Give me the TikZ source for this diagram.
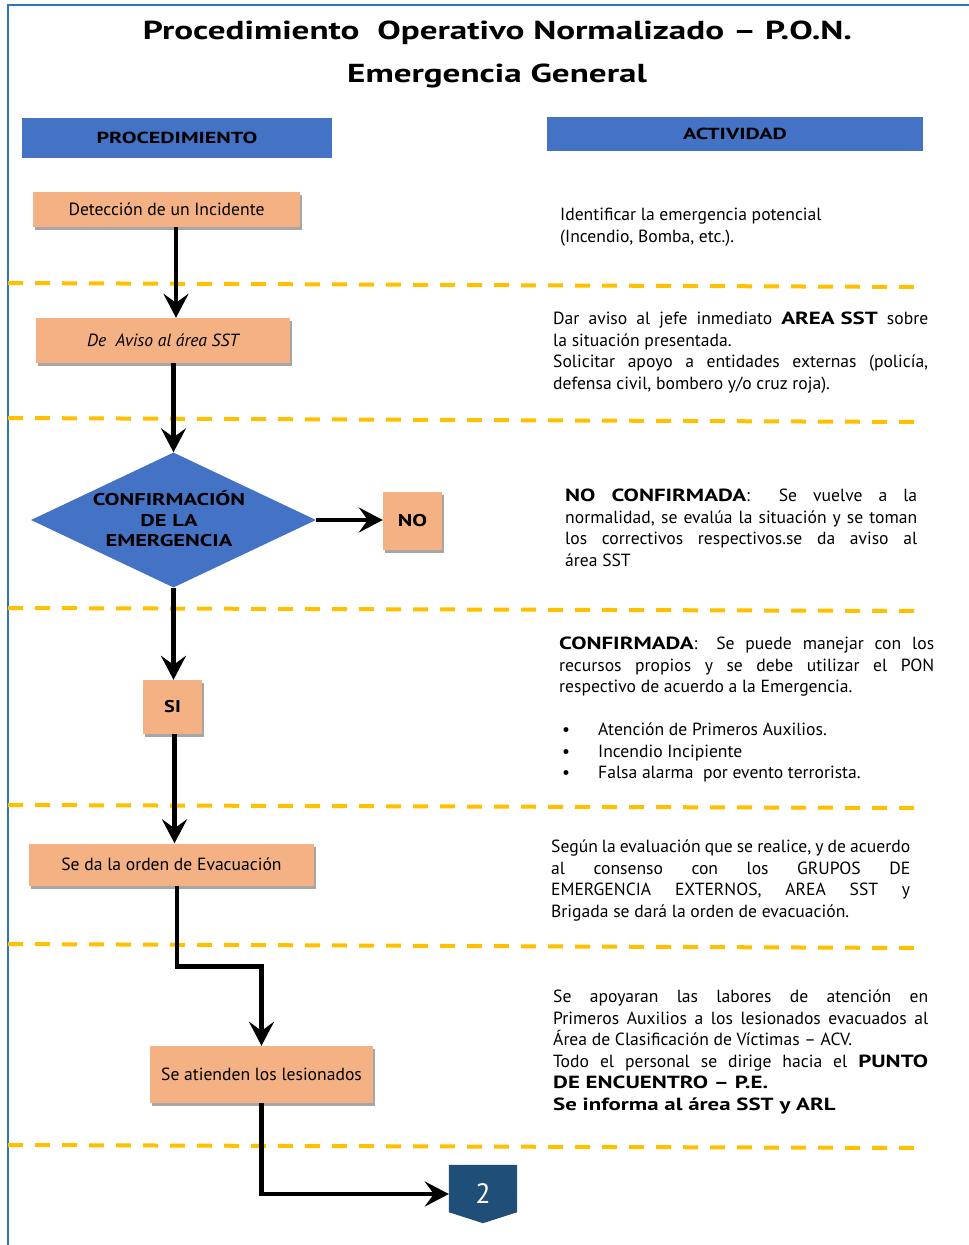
\documentclass[tikz,border=0pt]{standalone}
\usepackage{fontspec}
\usepackage{graphicx}
\setmainfont{PT Sans}
\usetikzlibrary{arrows.meta,shapes.geometric,shadows,backgrounds}
\definecolor{hdrblue}{HTML}{4472C4}
\definecolor{salmon}{HTML}{F4B183}
\definecolor{gold}{HTML}{FFC000}
\definecolor{navy}{HTML}{1F4E79}
\definecolor{borderblue}{HTML}{2E75B6}
\newcommand\wb[1]{\scalebox{1.3}[1]{\bfseries #1}}
\newcommand\wide[2]{\scalebox{#1}[1]{#2}}
\begin{document}
\begin{tikzpicture}[x=1pt,y=-1pt,
  body/.style={font=\fontsize{17.6}{21.5}\selectfont, inner sep=0pt, align=left, anchor=north west},
  pbox/.style={draw=none, fill=salmon, inner sep=0pt, font=\fontsize{17.6}{20}\selectfont,
    drop shadow={shadow xshift=2pt, shadow yshift=-3pt, fill=black, opacity=0.35}},
  hdr/.style={fill=hdrblue, inner sep=0pt, font=\fontsize{16}{19}\selectfont\bfseries},
  arr/.style={line width=4.5pt, -{Stealth[length=24pt,width=25pt,inset=9pt]}},
  sep/.style={gold, line width=4pt, dash pattern=on 15pt off 12pt}
]
\useasboundingbox (0,0) rectangle (969,1245);
\begin{scope}[on background layer]
\fill[white] (0,0) rectangle (969,1245);
\end{scope}
% border
\draw[borderblue, line width=2pt] (8,1245) -- (8,5) -- (969,5);

% title
\node[anchor=base, inner sep=0pt, font=\fontsize{26}{32}\selectfont\bfseries] (t1) at (497.5,39) {\wide{1.35}{Procedimiento\ \ Operativo Normalizado – P.O.N.}};
\node[anchor=base, inner sep=0pt, font=\fontsize{26}{32}\selectfont\bfseries] (t2) at (497,82) {\wide{1.35}{Emergencia General}};

% headers
\node[hdr, minimum width=310, minimum height=40] (hp) at (177,138) {\wide{1.38}{PROCEDIMIENTO}};
\node[hdr, minimum width=376, minimum height=34] (ha) at (735,134) {\wide{1.38}{ACTIVIDAD}};

% separators
\draw[sep] (8,283) -- (917,287);
\draw[sep] (8,418) -- (917,422);
\draw[sep] (8,608) -- (917,611);
\draw[sep] (8,805) -- (917,808);
\draw[sep] (8,944) -- (917,948);
\draw[sep] (8,1145) -- (917,1148);

% flow nodes
\node[pbox, minimum width=267, minimum height=35] (det) at (166.5,209.5) {Detección de un Incidente};
\node[pbox, minimum width=254, minimum height=45] (avi) at (163,340.5) {\itshape De\ \ Aviso al área SST};
\node[diamond, fill=hdrblue, minimum width=285, minimum height=135, aspect=2.11, inner sep=0pt] (dia) at (173.5,520) {};
\node[font=\fontsize{17}{20.5}\selectfont\bfseries, align=center, inner sep=0pt] (diatxt) at (169,519) {\wide{1.32}{CONFIRMACIÓN}\\\wide{1.32}{DE LA}\\\wide{1.32}{EMERGENCIA}};
\node[pbox, minimum width=59, minimum height=58, font=\fontsize{17}{20}\selectfont\bfseries] (no) at (412.5,521) {\wide{1.3}{NO}};
\node[pbox, minimum width=59, minimum height=54, font=\fontsize{17}{20}\selectfont\bfseries] (si) at (172.5,707) {\wide{1.2}{SI}};
\node[pbox, minimum width=285, minimum height=42] (eva) at (171.5,864.5) {Se da la orden de Evacuación};
\node[pbox, minimum width=223, minimum height=57] (ate) at (261.5,1074.5) {Se atienden los lesionados};
\node[minimum width=68, minimum height=58, inner sep=0pt, text=white, font=\fontsize{28}{30}\selectfont] (two) at (483,1194) {2};
\begin{scope}[on background layer]
\fill[navy] (two.north west) -- (two.north east) -- ([yshift=11pt]two.south east) -- (two.south) -- ([yshift=11pt]two.south west) -- cycle;
\end{scope}

% connectors
\coordinate (c1) at ([xshift=9.5pt]det.south);
\draw[arr] (c1) -- (c1 |- avi.north);
\draw[arr] (avi.south -| dia.north) -- (dia.north);
\draw[arr] (dia.south) -- (dia.south |- si.north);
\draw[arr] (dia.east) -- (dia.east -| no.west);
\coordinate (c4) at ([xshift=2pt]si.south);
\draw[arr] (c4) -- (c4 |- eva.north);
\coordinate (c5) at ([xshift=5.5pt]eva.south);
\draw[arr] (c5) -- ++(0,81) -| (ate.north);
\draw[arr] (ate.south) |- (two.west);

% activity texts
\node[body] (a1) at (560,208) {Identificar la emergencia potencial\\(Incendio, Bomba, etc.).};
\node[body] (a2) at (553,312) {\makebox[375pt][s]{Dar aviso al jefe inmediato \wb{AREA SST} sobre}\\
la situación presentada.\\
\makebox[375pt][s]{Solicitar apoyo a entidades externas (policía,}\\
defensa civil, bombero y/o cruz roja).};
\node[body] (a3) at (565,489) {\makebox[352pt][s]{\wb{NO} \wb{CONFIRMADA}: Se vuelve a la}\\
\makebox[352pt][s]{normalidad, se evalúa la situación y se toman}\\
\makebox[352pt][s]{los correctivos respectivos.se da aviso al}\\
área SST};
\node[body] (a4) at (559,637) {\makebox[375pt][s]{\wb{CONFIRMADA}: Se puede manejar con los}\\
\makebox[375pt][s]{recursos propios y se debe utilizar el PON}\\
respectivo de acuerdo a la Emergencia.\\[21.5pt]
\makebox[39pt][l]{\hspace{3pt}•}Atención de Primeros Auxilios.\\
\makebox[39pt][l]{\hspace{3pt}•}Incendio Incipiente\\
\makebox[39pt][l]{\hspace{3pt}•}Falsa alarma\ \ por evento terrorista.};
\node[body] (a5) at (551,840) {\makebox[359pt][s]{Según la evaluación que se realice, y de acuerdo}\\
\makebox[359pt][s]{al consenso con los GRUPOS DE}\\
\makebox[359pt][s]{EMERGENCIA EXTERNOS, AREA SST y}\\
Brigada se dará la orden de evacuación.};
\node[body] (a6) at (553,990) {\makebox[375pt][s]{Se apoyaran las labores de atención en}\\
\makebox[375pt][s]{Primeros Auxilios a los lesionados evacuados al}\\
Área de Clasificación de Víctimas – ACV.\\
\makebox[375pt][s]{Todo el personal se dirige hacia el \wb{PUNTO}}\\
\wb{DE ENCUENTRO – P.E.}\\
\wb{Se informa al área SST y ARL}};
\end{tikzpicture}
\end{document}
